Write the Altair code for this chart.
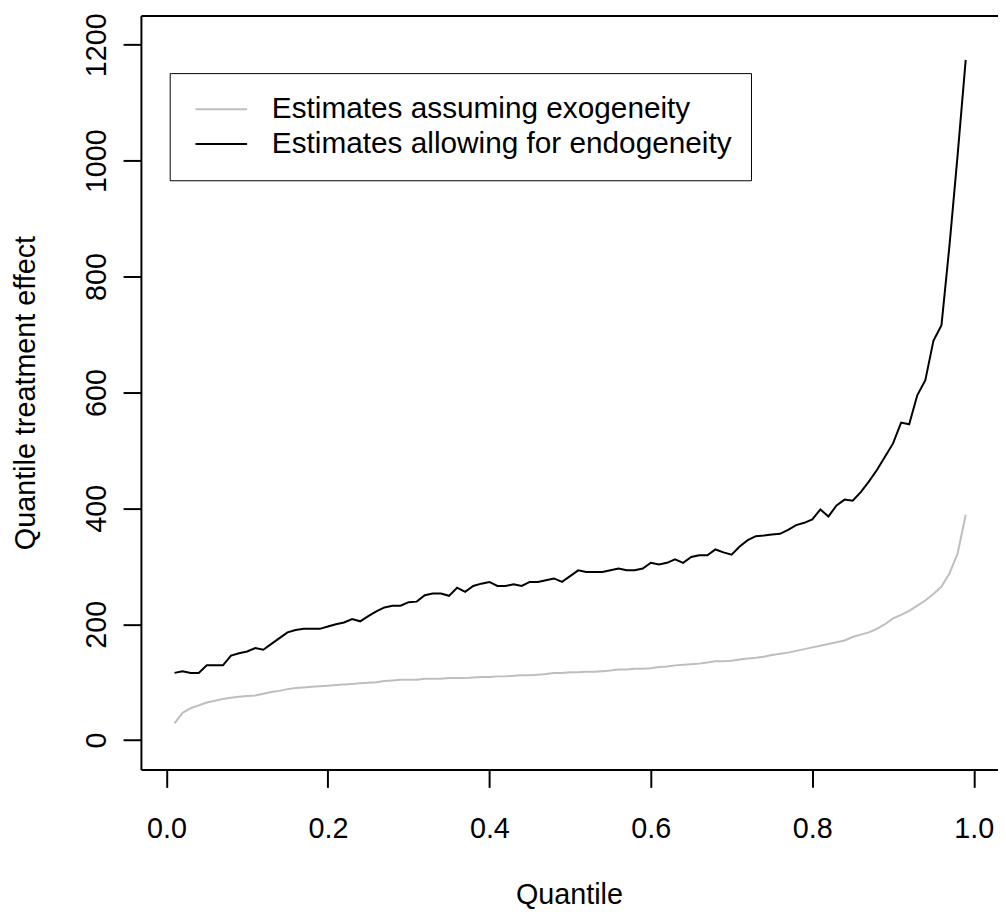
import altair as alt
import pandas as pd

quantiles = [round(0.01 * i, 2) for i in range(1, 100)]

exogenous = [29, 47, 55, 60, 65, 68, 71, 73, 75, 76,
             77, 80, 83, 85, 88, 90, 91, 92, 93, 94,
             95, 96, 97, 98, 99, 100, 102, 103, 104, 104,
             104, 106, 106, 106, 107, 107, 107, 108, 109, 109,
             110, 110, 111, 112, 112, 113, 114, 116, 116, 117,
             117, 118, 118, 119, 120, 122, 122, 123, 123, 124,
             126, 127, 129, 130, 131, 132, 134, 136, 136, 137,
             139, 141, 142, 144, 147, 149, 151, 154, 157, 160,
             163, 166, 169, 172, 178, 182, 186, 192, 200, 210,
             216, 223, 232, 241, 252, 265, 288, 322, 389]

endogenous = [116, 119, 116, 116, 129, 129, 129, 146, 150, 153,
              159, 156, 166, 176, 186, 190, 192, 192, 192, 196,
              200, 203, 209, 205, 214, 222, 229, 232, 232, 238,
              239, 250, 253, 253, 249, 263, 256, 266, 270, 273,
              266, 266, 269, 266, 273, 273, 276, 279, 273, 283,
              293, 290, 290, 290, 293, 296, 293, 293, 296, 306,
              303, 306, 312, 306, 316, 319, 319, 329, 324, 320,
              334, 345, 352, 353, 355, 356, 363, 371, 375, 381,
              398, 386, 405, 415, 413, 428, 446, 466, 489, 512,
              548, 545, 595, 621, 689, 716, 855, 1010, 1174]

series_names = ["Estimates assuming exogeneity", "Estimates allowing for endogeneity"]
series_colors = ["#bebebe", "#000000"]

x_ticks = [0.0, 0.2, 0.4, 0.6, 0.8, 1.0]
y_ticks = [0, 200, 400, 600, 800, 1000, 1200]

rows = []
for q, v in zip(quantiles, exogenous):
    rows.append({"q": q, "v": v, "s": series_names[0]})
for q, v in zip(quantiles, endogenous):
    rows.append({"q": q, "v": v, "s": series_names[1]})
df = pd.DataFrame(rows)

FONT = "Liberation Sans"
FS = 29
W, H = 864, 760

xscale = alt.Scale(domain=[-0.0316, 1.03], nice=False, zero=False)
yscale = alt.Scale(domain=[-50.7, 1250.3], nice=False, zero=False)

lines = alt.Chart(df).mark_line(strokeWidth=2).encode(
    x=alt.X("q:Q", scale=xscale,
            axis=alt.Axis(values=x_ticks, format=".1f", title="Quantile",
                          orient="bottom", grid=False, domain=True,
                          domainColor="black", domainWidth=2,
                          tickColor="black", tickWidth=2, tickSize=18,
                          labelFont=FONT, labelFontSize=FS, labelColor="black",
                          labelBaseline="alphabetic", labelPadding=51,
                          labelFlush=False, labelOverlap=False,
                          titleFont=FONT, titleFontSize=FS, titleFontWeight="normal",
                          titleColor="black", titleBaseline="alphabetic",
                          titleAlign="center", titleX=W / 2 - 0.5, titleY=135)),
    y=alt.Y("v:Q", scale=yscale,
            axis=alt.Axis(values=y_ticks, format="d", title="Quantile treatment effect",
                          orient="left", grid=False, domain=True,
                          domainColor="black", domainWidth=2,
                          tickColor="black", tickWidth=2, tickSize=18,
                          labelFont=FONT, labelFontSize=FS, labelColor="black",
                          labelAngle=-90, labelAlign="center",
                          labelBaseline="alphabetic", labelPadding=18,
                          labelFlush=False, labelOverlap=False,
                          titleFont=FONT, titleFontSize=FS, titleFontWeight="normal",
                          titleColor="black", titleAngle=270,
                          titleBaseline="alphabetic", titleAlign="center",
                          titleX=-107, titleY=H / 2)),
    color=alt.Color("s:N",
                    scale=alt.Scale(domain=series_names, range=series_colors),
                    sort=series_names,
                    legend=alt.Legend(title=None, orient="none",
                                      legendX=29, legendY=58,
                                      fillColor="white", strokeColor="black",
                                      padding=19, symbolType="stroke",
                                      symbolSize=2704, symbolStrokeWidth=2,
                                      symbolOffset=6, clipHeight=35,
                                      labelFont=FONT, labelFontSize=30,
                                      labelColor="black", labelLimit=0,
                                      labelOffset=24, rowPadding=0)),
    detail="s:N",
)

top_border = alt.Chart(df).mark_line(opacity=0).encode(
    x=alt.X("q:Q", scale=xscale,
            axis=alt.Axis(orient="top", labels=False, ticks=False, title=None,
                          grid=False, domain=True, domainColor="black",
                          domainWidth=2)),
    y=alt.Y("v:Q", scale=yscale, axis=None),
    detail="s:N",
)

chart = alt.layer(lines, top_border).resolve_axis(
    x="independent", y="independent"
).properties(
    width=W, height=H,
    autosize=alt.AutoSizeParams(type="none"),
    padding={"left": 134, "top": 4, "right": 0, "bottom": 140},
).configure_view(stroke=None).configure(background="white")

chart.save("out.html", embed_options={"renderer": "svg", "actions": False})
